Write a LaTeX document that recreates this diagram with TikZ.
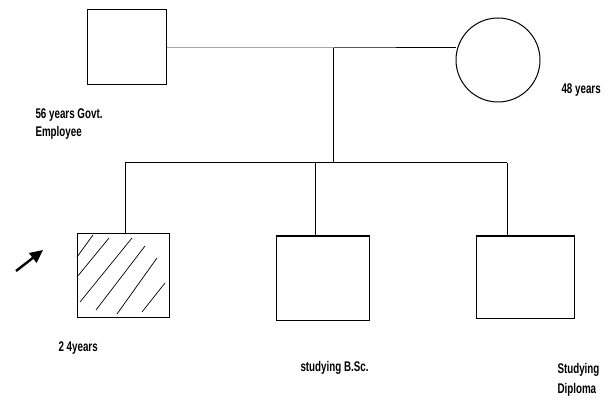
\documentclass[tikz,border=0pt]{standalone}
\usepackage{fontspec}
\setmainfont{Liberation Sans}[FakeStretch=0.70]
\usetikzlibrary{arrows.meta}
\begin{document}
\begin{tikzpicture}[x=1pt,y=-1pt,
  line width=1pt,
  person/.style={draw,line width=1pt,inner sep=0pt,outer sep=0pt},
  lab/.style={font=\bfseries\fontsize{14}{16}\selectfont,anchor=west,inner sep=0pt,align=left},
  conn/.style={line width=1pt},
  hatch/.style={line width=0.7pt}]
\useasboundingbox (0,0) rectangle (611,401);
% parents
\node[person,minimum width=79pt,minimum height=75pt] (father) at (126.5,47.5) {};
\node[person,circle,minimum size=84pt] (mother) at (498,60) {};
% children
\node[person,minimum width=92pt,minimum height=83pt] (c1) at (123,275.5) {};
\node[person,minimum width=93pt,minimum height=84pt] (c2) at (322.5,278) {};
\node[person,minimum width=98pt,minimum height=82pt] (c3) at (525,277) {};
% junctions
\coordinate (m) at (333,48);
\coordinate (s) at (333,163);
\coordinate (s1) at (125,163);
\coordinate (s2) at (315,163);
\coordinate (s3) at (507,163);
\draw[conn] (father.east |- m) -- (m) -- (mother.west |- m);
\draw[conn] (m) -- (s);
\draw[conn] (s1) -- (s3);
\draw[conn] (s1) -- (s1 |- c1.north);
\draw[conn] (s2) -- (s2 |- c2.north);
\draw[conn] (s3) -- (s3 |- c3.north);
% hatching
\draw[hatch] (77,257) -- (93,235);
\draw[hatch] (77,277) -- (109,238);
\draw[hatch] (80,302) -- (132,238);
\draw[hatch] (96,310) -- (145,246);
\draw[hatch] (117,314) -- (157,258);
\draw[hatch] (142,312) -- (165,283);
% proband arrow
\coordinate (at) at (16,271);
\coordinate (tip) at (43,250);
\draw[line width=2.4pt,-{Triangle[length=13pt,width=12pt]}] (at) -- (tip);
% labels
\node[lab] (t1) at (35,115) {56 years Govt.};
\node[lab] (t2) at (35,133) {Employee};
\node[lab] (t3) at (561,90) {48 years};
\node[lab] (t4) at (58,348) {2 4years};
\node[lab] (t5) at (300,368) {studying B.Sc.};
\node[lab] (t6) at (557,370) {Studying};
\node[lab] (t7) at (557,390) {Diploma};
\end{tikzpicture}
\end{document}
